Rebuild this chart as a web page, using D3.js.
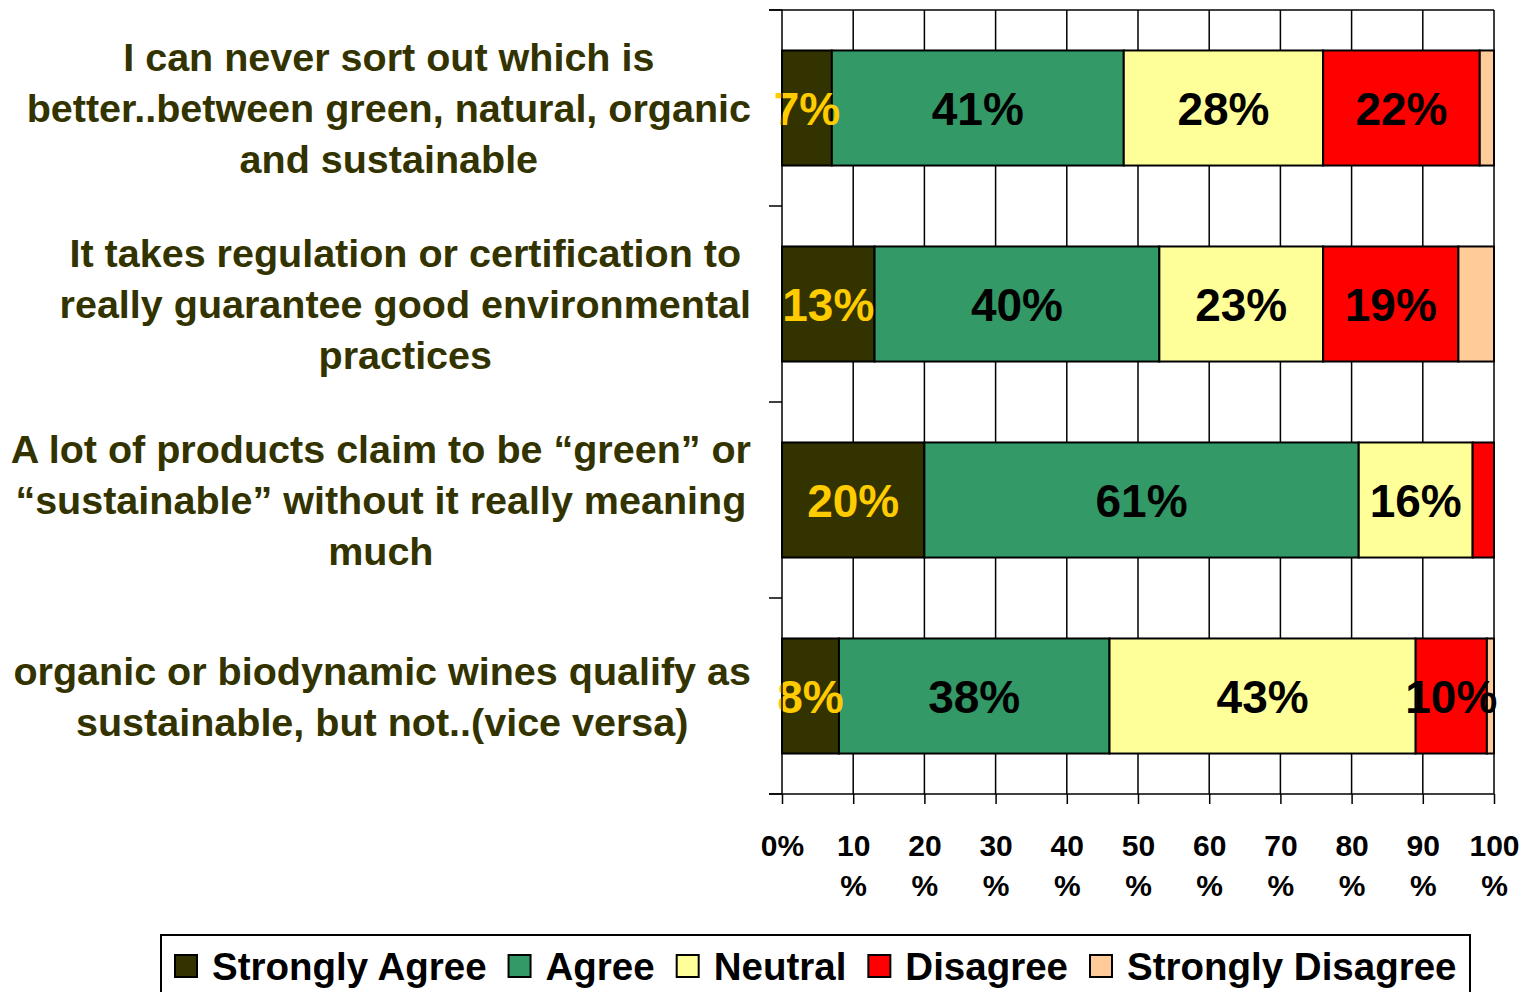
<!DOCTYPE html>
<html>
<head>
<meta charset="utf-8">
<script src="https://cdn.jsdelivr.net/npm/d3@7"></script>
<style>
  body { margin: 0; background: #fff; }
  text { font-family: "Liberation Sans", Arial, sans-serif; font-weight: bold; }
</style>
</head>
<body>
<svg id="chart"></svg>
<script>
// chart data
const categories = ["q1", "q2", "q3", "q4"];
const categoryLines = [
  ["I can never sort out which is", "better..between green, natural, organic", "and sustainable"],
  ["It takes regulation or certification to", "really guarantee good environmental", "practices"],
  ["A lot of products claim to be \u201cgreen\u201d or", "\u201csustainable\u201d without it really meaning", "much"],
  ["organic or biodynamic wines qualify as", "sustainable, but not..(vice versa)"]
];
const seriesNames = ["Strongly Agree", "Agree", "Neutral", "Disagree", "Strongly Disagree"];
const stronglyAgree = [7, 13, 20, 8];
const agree = [41, 40, 61, 38];
const neutral = [28, 23, 16, 43];
const disagree = [22, 19, 3, 10];
const stronglyDisagree = [2, 5, 0, 1];
const xTicks = [0, 10, 20, 30, 40, 50, 60, 70, 80, 90, 100];

const colors = ["#333300", "#339966", "#FFFF99", "#FF0000", "#FFCC99"];
const labelColors = ["#FFCC00", "#000", "#000", "#000", "#000"];

const W = 1523, H = 992;
const svg = d3.select("#chart").attr("width", W).attr("height", H);

// table built from arrays
const allSeries = [stronglyAgree, agree, neutral, disagree, stronglyDisagree];
const rows = categories.map((c, i) => {
  const r = { cat: c };
  seriesNames.forEach((s, j) => r[s] = allSeries[j][i]);
  return r;
});

const x = d3.scaleLinear().domain([0, 100]).range([782, 1494]);
const y = d3.scaleBand().domain(categories).range([10, 794])
  .paddingInner(0.413).paddingOuter(0.2065);

// vertical gridlines
svg.append("g").selectAll("line")
  .data(xTicks.slice(1))
  .join("line")
  .attr("x1", d => x(d)).attr("x2", d => x(d))
  .attr("y1", 10).attr("y2", 794)
  .attr("stroke", "#000").attr("stroke-width", 1.5);

// top border
svg.append("line")
  .attr("x1", 769).attr("x2", x(100)).attr("y1", 10).attr("y2", 10)
  .attr("stroke", "#000").attr("stroke-width", 1.5);

// stacked bars
const stacked = d3.stack().keys(seriesNames)(rows);
const layers = svg.append("g").selectAll("g")
  .data(stacked)
  .join("g")
  .attr("fill", (d, i) => colors[i]);

layers.selectAll("rect")
  .data(d => d.filter(s => s[1] - s[0] > 0))
  .join("rect")
  .attr("x", d => x(d[0]))
  .attr("y", d => y(d.data.cat))
  .attr("width", d => x(d[1]) - x(d[0]))
  .attr("height", y.bandwidth())
  .attr("stroke", "#000")
  .attr("stroke-width", 2);

// data labels
stacked.forEach((layer, i) => {
  svg.append("g").selectAll("text")
    .data(layer.filter(s => s[1] - s[0] >= 6))
    .join("text")
    .attr("x", d => x((d[0] + d[1]) / 2))
    .attr("y", d => y(d.data.cat) + y.bandwidth() / 2)
    .attr("dy", "0.36em")
    .attr("text-anchor", "middle")
    .attr("font-size", 46)
    .attr("fill", labelColors[i])
    .text(d => (d[1] - d[0]) + "%");
});

// y axis with ticks between categories
const yAxis = svg.append("g");
yAxis.append("line")
  .attr("x1", x(0)).attr("x2", x(0)).attr("y1", 10).attr("y2", 794)
  .attr("stroke", "#000").attr("stroke-width", 1.5);
yAxis.selectAll(".yt")
  .data(d3.range(categories.length + 1))
  .join("line")
  .attr("x1", 769).attr("x2", x(0))
  .attr("y1", i => y.range()[0] + i * y.step())
  .attr("y2", i => y.range()[0] + i * y.step())
  .attr("stroke", "#000").attr("stroke-width", 1.5);

// category labels, each block right-aligned with centred lines
categories.forEach((c, i) => {
  const lines = categoryLines[i];
  const g = svg.append("g");
  const cy = y(c) + y.bandwidth() / 2;
  const lh = 51;
  const t = g.selectAll("text")
    .data(lines)
    .join("text")
    .attr("y", (d, k) => cy + (k - (lines.length - 1) / 2) * lh + 14)
    .attr("text-anchor", "middle")
    .attr("font-size", 39.5)
    .attr("fill", "#333300")
    .text(d => d);
  let maxW = 0;
  t.each(function () { maxW = Math.max(maxW, this.getComputedTextLength()); });
  t.attr("x", 751 - maxW / 2);
});

// x axis
const xAxis = svg.append("g")
  .attr("transform", "translate(0,794)")
  .call(d3.axisBottom(x).tickValues(xTicks).tickSize(10).tickSizeOuter(0).tickFormat(""));
xAxis.select(".domain").remove();
xAxis.selectAll(".tick line").attr("stroke", "#000").attr("stroke-width", 1.5);
xAxis.append("line")
  .attr("x1", 769).attr("x2", x(100)).attr("y1", 0).attr("y2", 0)
  .attr("stroke", "#000").attr("stroke-width", 1.5);
xAxis.selectAll(".tick").each(function (d) {
  const tx = d3.select(this).append("text")
    .attr("fill", "#000")
    .attr("font-size", 30)
    .attr("text-anchor", "middle")
    .attr("y", 62);
  if (d === 0) {
    tx.text(d + "%");
  } else {
    tx.append("tspan").attr("x", 0).text(d);
    tx.append("tspan").attr("x", 0).attr("dy", 40).text("%");
  }
});

// legend
const legend = svg.append("g");
legend.append("rect")
  .attr("x", 161).attr("y", 935).attr("width", 1309).attr("height", 80)
  .attr("fill", "#fff").attr("stroke", "#000").attr("stroke-width", 2);
let lx = 175;
seriesNames.forEach((s, i) => {
  legend.append("rect")
    .attr("x", lx).attr("y", 955).attr("width", 22).attr("height", 22)
    .attr("fill", colors[i]).attr("stroke", "#000").attr("stroke-width", 2);
  const t = legend.append("text")
    .attr("x", lx + 37).attr("y", 980)
    .attr("font-size", 38.5)
    .attr("fill", "#000")
    .text(s);
  lx += 37 + t.node().getComputedTextLength() + 22;
});
</script>
</body>
</html>
